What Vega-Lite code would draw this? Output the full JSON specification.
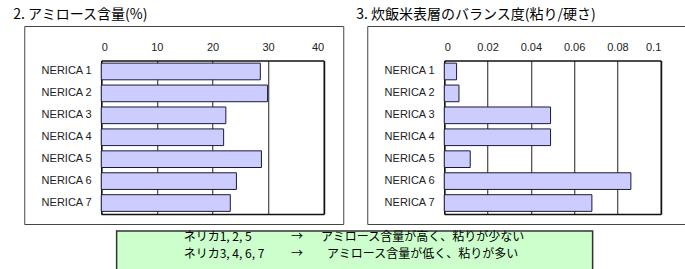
{
  "$schema": "https://vega.github.io/schema/vega-lite/v6.json",
  "background": "white",
  "padding": {"left": 12, "top": 7, "right": 0, "bottom": 0},
  "center": true,
  "spacing": 4,
  "datasets": {
    "amylose": [
      {"variety": "NERICA 1", "value": 28.6},
      {"variety": "NERICA 2", "value": 29.9},
      {"variety": "NERICA 3", "value": 22.4},
      {"variety": "NERICA 4", "value": 22.0},
      {"variety": "NERICA 5", "value": 28.8},
      {"variety": "NERICA 6", "value": 24.3},
      {"variety": "NERICA 7", "value": 23.2}
    ],
    "balance": [
      {"variety": "NERICA 1", "value": 0.0057},
      {"variety": "NERICA 2", "value": 0.0068},
      {"variety": "NERICA 3", "value": 0.0491},
      {"variety": "NERICA 4", "value": 0.0491},
      {"variety": "NERICA 5", "value": 0.012},
      {"variety": "NERICA 6", "value": 0.0862},
      {"variety": "NERICA 7", "value": 0.0682}
    ],
    "note": [
      {"line": 1, "part": "name", "text": "ネリカ1, 2, 5"},
      {"line": 1, "part": "arrow", "text": "→"},
      {"line": 1, "part": "desc", "text": "アミロース含量が高く、粘りが少ない"},
      {"line": 2, "part": "name", "text": "ネリカ3, 4, 6, 7"},
      {"line": 2, "part": "arrow", "text": "→"},
      {"line": 2, "part": "desc", "text": "アミロース含量が低く、粘りが多い"}
    ]
  },
  "vconcat": [
    {
      "hconcat": [
        {
          "width": 319,
          "height": 198,
          "title": {"text": "2. アミロース含量(%)", "anchor": "start", "frame": "group", "dx": -11},
          "data": {"name": "amylose"},
          "layer": [
            {
              "mark": {"type": "bar", "fill": "#ccccff", "stroke": "#1a1a3a", "strokeWidth": 1},
              "encoding": {
                "x": {"field": "value", "type": "quantitative",
                  "scale": {"domain": [0, 40], "range": [77, 299.5], "nice": false},
                  "axis": {"orient": "top", "offset": -34.5, "values": [0, 10, 20, 30, 40], "grid": true, "gridColor": "#222", "gridWidth": 1, "gridOpacity": 1, "domain": true, "domainColor": "#111", "domainWidth": 1.5, "ticks": false, "tickSize": 0, "labelPadding": 8, "title": null, "zindex": 0}},
                "y": {"field": "variety", "type": "nominal", "sort": null,
                  "scale": {"range": [34.5, 188], "paddingInner": 0.24, "paddingOuter": 0.12},
                  "axis": {"orient": "left", "offset": -77, "domain": true, "domainColor": "#111", "domainWidth": 1.5, "ticks": false, "tickSize": 0, "labelPadding": 10, "grid": false, "title": null}}
              }
            },
            {
              "mark": {"type": "bar", "opacity": 0},
              "encoding": {
                "x": {"field": "value", "type": "quantitative",
                  "axis": {"orient": "bottom", "offset": -10, "labels": false, "ticks": false, "grid": false, "domain": true, "domainColor": "#111", "domainWidth": 1.5, "title": null}},
                "y": {"field": "variety", "type": "nominal", "sort": null,
                  "axis": {"orient": "right", "offset": -19.5, "labels": false, "ticks": false, "grid": false, "domain": true, "domainColor": "#111", "domainWidth": 1.5, "title": null}}
              }
            }
          ],
          "resolve": {"axis": {"x": "independent", "y": "independent"}}
        },
        {
          "width": 318,
          "height": 198,
          "title": {"text": "3. 炊飯米表層のバランス度(粘り/硬さ)", "anchor": "start", "frame": "group", "dx": -11},
          "data": {"name": "balance"},
          "layer": [
            {
              "mark": {"type": "bar", "fill": "#ccccff", "stroke": "#1a1a3a", "strokeWidth": 1},
              "encoding": {
                "x": {"field": "value", "type": "quantitative",
                  "scale": {"domain": [0, 0.1], "range": [77, 293.5], "nice": false},
                  "axis": {"orient": "top", "offset": -34.5, "values": [0, 0.02, 0.04, 0.06, 0.08, 0.1], "format": "~g", "grid": true, "gridColor": "#222", "gridWidth": 1, "gridOpacity": 1, "domain": true, "domainColor": "#111", "domainWidth": 1.5, "ticks": false, "tickSize": 0, "labelPadding": 8, "title": null, "zindex": 0}},
                "y": {"field": "variety", "type": "nominal", "sort": null,
                  "scale": {"range": [34.5, 188], "paddingInner": 0.24, "paddingOuter": 0.12},
                  "axis": {"orient": "left", "offset": -77, "domain": true, "domainColor": "#111", "domainWidth": 1.5, "ticks": false, "tickSize": 0, "labelPadding": 10, "grid": false, "title": null}}
              }
            },
            {
              "mark": {"type": "bar", "opacity": 0},
              "encoding": {
                "x": {"field": "value", "type": "quantitative",
                  "axis": {"orient": "bottom", "offset": -10, "labels": false, "ticks": false, "grid": false, "domain": true, "domainColor": "#111", "domainWidth": 1.5, "title": null}},
                "y": {"field": "variety", "type": "nominal", "sort": null,
                  "axis": {"orient": "right", "offset": -24.5, "labels": false, "ticks": false, "grid": false, "domain": true, "domainColor": "#111", "domainWidth": 1.5, "title": null}}
              }
            }
          ],
          "resolve": {"axis": {"x": "independent", "y": "independent"}}
        }
      ],
      "spacing": 11
    },
    {
      "width": 476,
      "height": 45,
      "title": {"text": "\u3000", "orient": "left", "fontSize": 1, "offset": 11},
      "view": {"fill": "#ccffcc", "stroke": "#333333", "strokeWidth": 1.5},
      "data": {"name": "note"},
      "encoding": {
        "y": {"field": "line", "type": "ordinal", "scale": {"type": "point", "range": [5.5, 23.2], "padding": 0}, "axis": null},
        "x": {"field": "part", "type": "nominal", "scale": {"type": "point", "domain": ["name", "arrow", "desc"], "range": [67, 306], "padding": 0}, "axis": null},
        "text": {"field": "text"}
      },
      "layer": [
        {"transform": [{"filter": "datum.part === 'name'"}], "mark": {"type": "text", "align": "left", "baseline": "middle", "font": "Noto Sans CJK JP", "fontSize": 12, "color": "#000"}},
        {"transform": [{"filter": "datum.part === 'arrow'"}], "mark": {"type": "text", "align": "right", "baseline": "middle", "font": "Noto Sans CJK JP", "fontSize": 12, "color": "#000"}},
        {"transform": [{"filter": "datum.part === 'desc'"}], "mark": {"type": "text", "align": "center", "baseline": "middle", "font": "Noto Sans CJK JP", "fontSize": 12, "color": "#000"}}
      ]
    }
  ],
  "config": {
    "view": {"stroke": "#444444", "strokeWidth": 1},
    "axis": {"labelFont": "Liberation Sans", "labelFontSize": 11, "labelColor": "#222222"},
    "title": {"font": "Noto Sans CJK JP", "fontSize": 14, "fontWeight": "normal", "color": "#000000", "offset": 4}
  }
}
